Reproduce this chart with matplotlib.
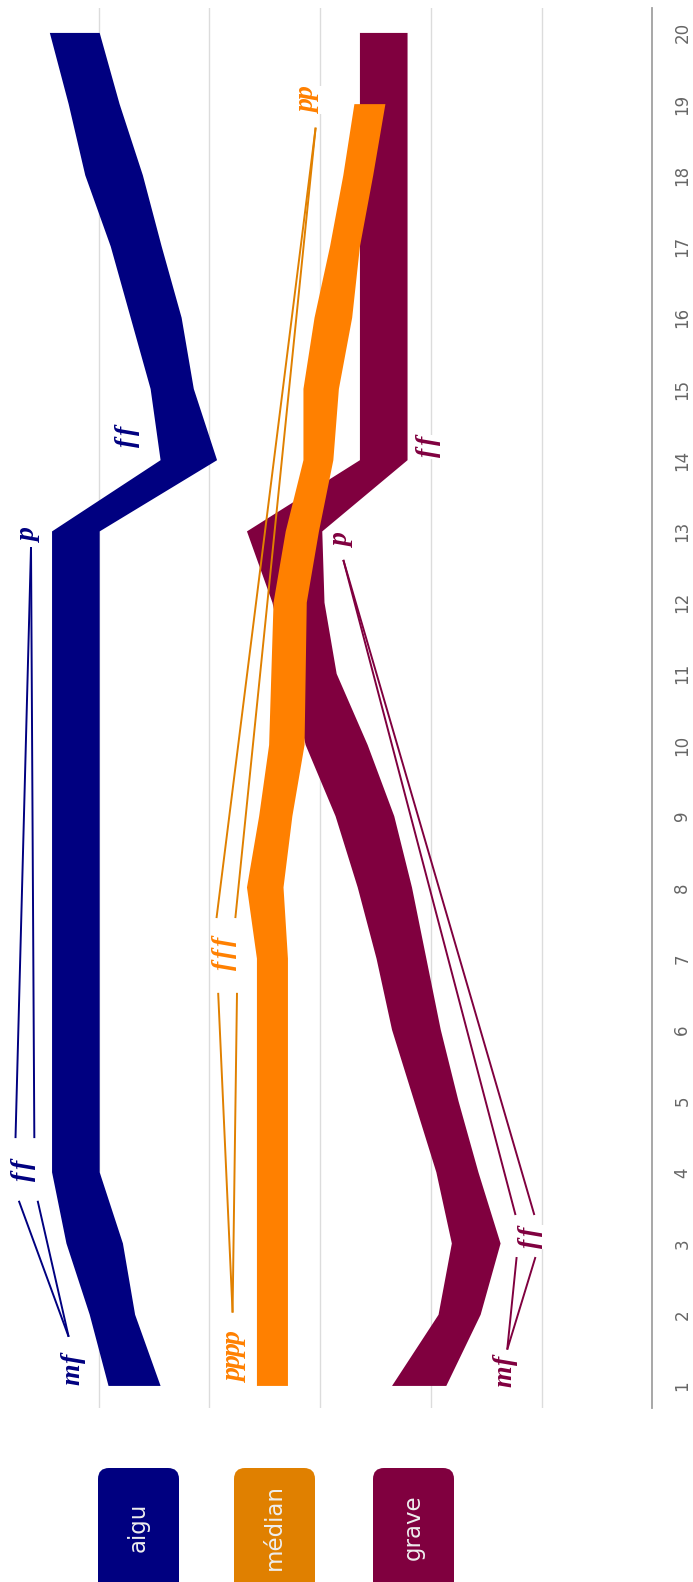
import matplotlib
matplotlib.use("Agg")
import matplotlib.pyplot as plt
from matplotlib.patches import FancyBboxPatch

# ---------------- data ----------------
steps = list(range(1, 21))

aigu_upper = [4.91, 5.08, 5.29, 5.42, 5.42, 5.42, 5.42, 5.42, 5.42, 5.42,
              5.42, 5.42, 5.42, 4.44, 4.53, 4.71, 4.89, 5.12, 5.27, 5.44]
aigu_lower = [4.44, 4.67, 4.78, 4.99, 4.99, 4.99, 4.99, 4.99, 4.99, 4.99,
              4.99, 4.99, 4.99, 3.93, 4.14, 4.25, 4.43, 4.60, 4.81, 4.99]

median_steps = list(range(1, 20))
median_upper = [3.57, 3.57, 3.57, 3.57, 3.57, 3.57, 3.57, 3.66, 3.55, 3.46,
                3.44, 3.42, 3.31, 3.15, 3.15, 3.05, 2.91, 2.79, 2.69]
median_lower = [3.29, 3.29, 3.29, 3.29, 3.29, 3.29, 3.29, 3.33, 3.25, 3.14,
                3.13, 3.12, 3.01, 2.88, 2.83, 2.71, 2.64, 2.52, 2.41]

grave_upper = [2.35, 1.93, 1.81, 1.95, 2.15, 2.35, 2.49, 2.66, 2.86, 3.13,
               3.28, 3.43, 3.66, 2.64, 2.64, 2.64, 2.64, 2.64, 2.64, 2.64]
grave_lower = [1.86, 1.55, 1.37, 1.57, 1.75, 1.91, 2.04, 2.17, 2.33, 2.57,
               2.85, 2.96, 2.98, 2.21, 2.21, 2.21, 2.21, 2.21, 2.21, 2.21]

series_names = ["aigu", "médian", "grave"]

# dynamics markings
dyn_series = ["aigu", "aigu", "aigu", "aigu",
              "médian", "médian", "médian",
              "grave", "grave", "grave", "grave"]
dyn_step = [1.25, 4.03, 12.95, 14.33, 1.41, 7.08, 19.06, 1.22, 3.09, 12.88, 14.19]
dyn_value = [5.23, 5.68, 5.62, 4.74, 3.76, 3.86, 3.10, 1.33, 1.10, 2.80, 2.02]
dyn_text = ["mf", "ff", "p", "ff", "pppp", "fff", "pp", "mf", "ff", "p", "ff"]

# hairpins (crescendo / decrescendo)
hp_series = ["aigu", "aigu", "médian", "médian", "grave", "grave"]
hp_kind = ["cresc", "dim", "cresc", "dim", "cresc", "dim"]
hp_start_step = [1.69, 4.48, 2.03, 7.57, 1.51, 3.40]
hp_start_value = [5.27, 5.665, 3.79, 3.85, 1.31, 1.15]
hp_end_step = [3.60, 12.78, 6.52, 18.67, 2.81, 12.60]
hp_end_value = [5.635, 5.61, 3.835, 3.04, 1.14, 2.79]

# ---------------- style ----------------
band_color = {"aigu": "#000080", "médian": "#FF8000", "grave": "#80003F"}
label_color = {"aigu": "#000080", "médian": "#FF8000", "grave": "#80003F"}
line_color = {"aigu": "#000080", "médian": "#E08000", "grave": "#80003F"}
legend_color = {"aigu": "#000080", "médian": "#E08000", "grave": "#80003F"}

W, H = 693, 1582
fig = plt.figure(figsize=(W / 100, H / 100), dpi=100)
fig.patch.set_facecolor("white")

ax_left, ax_right = 0, 652.3
ax_top, ax_bottom = 8, 1408
ax = fig.add_axes([ax_left / W, (H - ax_bottom) / H,
                   (ax_right - ax_left) / W, (ax_bottom - ax_top) / H])
ax.set_xlim(5.89, 0)
ax.set_ylim(0.69, 20.35)
ax.set_facecolor("none")

for sp in ["top", "bottom", "left"]:
    ax.spines[sp].set_visible(False)
ax.spines["right"].set_color("#a0a0a0")
ax.spines["right"].set_linewidth(1.3)

ax.set_xticks([1, 2, 3, 4, 5])
ax.set_xticklabels([])
ax.tick_params(axis="x", length=0)
ax.grid(axis="x", color="#dcdcdc", linewidth=1.0, zorder=0)
ax.set_axisbelow(True)
ax.set_yticks([])

for s in steps:
    ax.annotate(str(s), xy=(1, s), xycoords=("axes fraction", "data"),
                xytext=(30, 0), textcoords="offset pixels", rotation=90,
                ha="center", va="center", fontsize=12, color="#666666",
                family="DejaVu Sans", annotation_clip=False)


def band(upper, lower, ys, color, z):
    xs = list(upper) + list(lower)[::-1]
    yy = list(ys) + list(ys)[::-1]
    ax.fill(xs, yy, color=color, lw=0, zorder=z)


band(aigu_upper, aigu_lower, steps, band_color["aigu"], 2)
band(grave_upper, grave_lower, steps, band_color["grave"], 2)
band(median_upper, median_lower, median_steps, band_color["médian"], 3)

# hairpins
hw = 0.085
for ser, kind, s0, v0, s1, v1 in zip(hp_series, hp_kind, hp_start_step,
                                      hp_start_value, hp_end_step, hp_end_value):
    c = line_color[ser]
    if kind == "cresc":
        for d in (-hw, hw):
            ax.plot([v0, v1 + d], [s0, s1], color=c, lw=1.4, zorder=4,
                    solid_capstyle="butt")
    else:
        for d in (-hw, hw):
            ax.plot([v0 + d, v1], [s0, s1], color=c, lw=1.4, zorder=4,
                    solid_capstyle="butt")

# dynamics labels, drawn character by character
char_w = {"m": 20, "f": 12, "p": 12}
for ser, s, v, txt in zip(dyn_series, dyn_step, dyn_value, dyn_text):
    total = sum(char_w[ch] for ch in txt)
    pos = -total / 2
    for ch in txt:
        off = pos + char_w[ch] / 2
        pos += char_w[ch]
        for pas in (0, 1):
            kw = dict(xy=(v, s), xytext=(0, off), textcoords="offset pixels",
                      rotation=90, ha="center", va="center", fontsize=20,
                      family="Liberation Serif", style="italic", weight="bold")
            if pas == 0:
                ax.annotate(ch, color="white", zorder=5,
                            bbox=dict(fc="white", ec="none", pad=1.0), **kw)
            else:
                ax.annotate(ch, color=label_color[ser], zorder=6, **kw)

# legend
lg = fig.add_axes([0, 0, 1, 1])
lg.set_xlim(0, W)
lg.set_ylim(H, 0)
lg.axis("off")
lg.patch.set_alpha(0)
box_left = [98, 234, 373]
for name, x0 in zip(series_names, box_left):
    p = FancyBboxPatch((x0, 1468), 81, 130,
                       boxstyle="round,pad=0,rounding_size=11",
                       fc=legend_color[name], ec="none")
    lg.add_patch(p)
    lg.text(x0 + 40.5, 1527, name, rotation=90, ha="center", va="center",
            color="#eeeeee", fontsize=16.5, family="DejaVu Sans")

fig.savefig("out.png", dpi=100, facecolor="white")
